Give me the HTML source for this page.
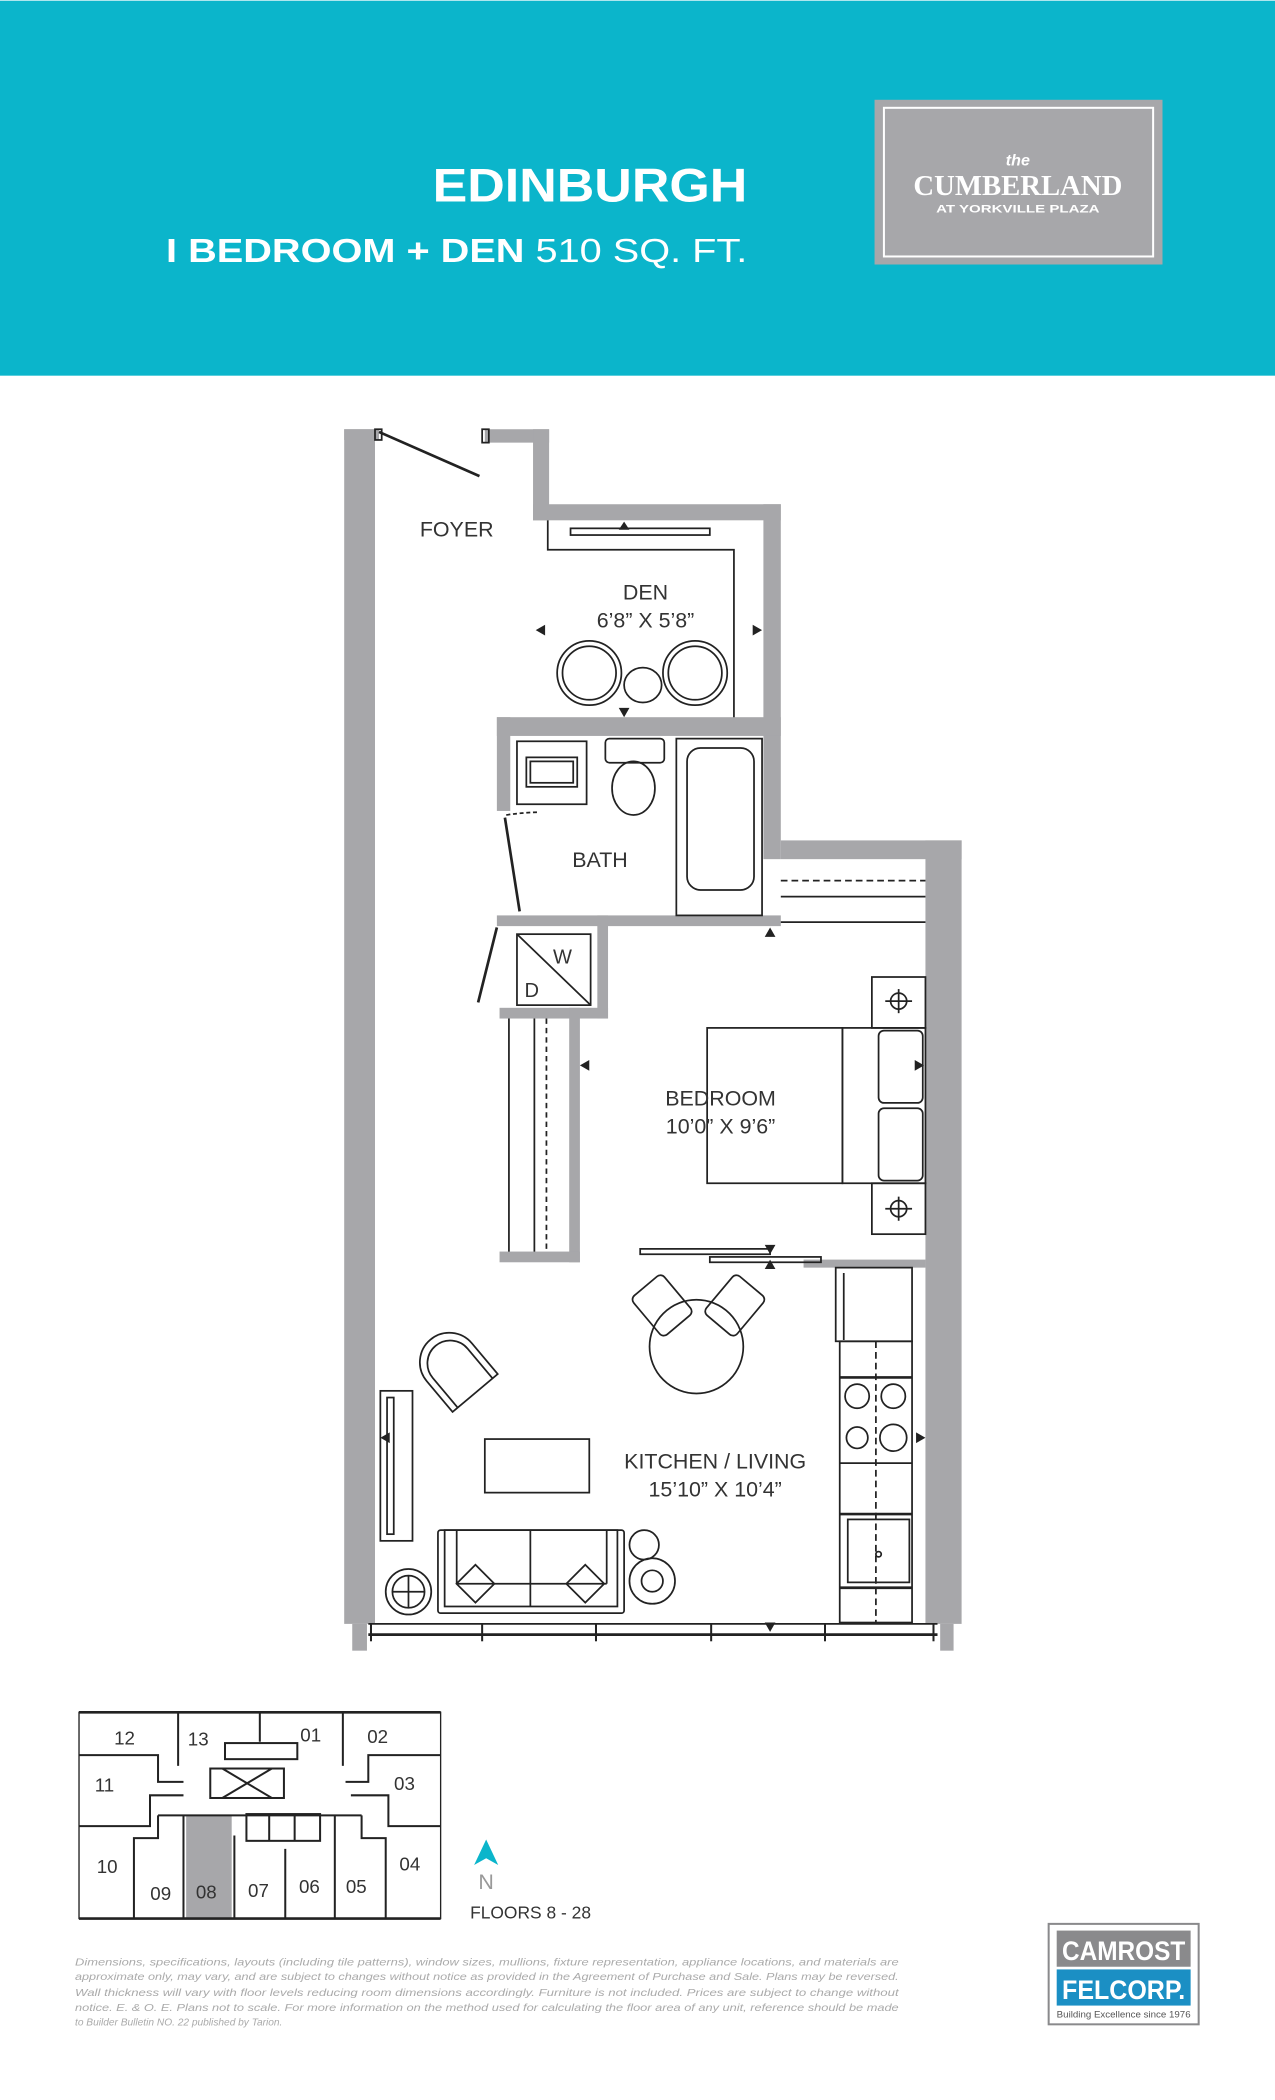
<!DOCTYPE html>
<html><head><meta charset="utf-8"><style>
html,body{margin:0;padding:0;background:#fff}
svg{display:block}
text{font-family:"Liberation Sans",sans-serif}
</style></head><body>
<svg width="1275" height="2100" viewBox="0 0 952 1567" xmlns="http://www.w3.org/2000/svg">
<rect x="0" y="0" width="952" height="280" fill="#0bb5cb"/>
<text x="558" y="150" text-anchor="end" font-size="35" font-weight="bold" fill="#fff" textLength="235" lengthAdjust="spacingAndGlyphs">EDINBURGH</text>
<text x="124" y="195" font-size="25" fill="#fff" textLength="434" lengthAdjust="spacingAndGlyphs"><tspan font-weight="bold">I BEDROOM + DEN</tspan> 510 SQ. FT.</text>
<rect x="653" y="74" width="215" height="123" fill="#a7a7aa"/>
<rect x="660" y="80" width="201" height="111" fill="none" stroke="#fff" stroke-width="1.5"/>
<text x="760" y="123" text-anchor="middle" font-family="Liberation Serif" font-style="italic" font-weight="bold" font-size="12" fill="#fff">the</text>
<text x="760" y="145" text-anchor="middle" font-family="Liberation Serif" font-weight="bold" font-size="21" fill="#fff" textLength="156" lengthAdjust="spacingAndGlyphs" style="font-family:'Liberation Serif',serif">CUMBERLAND</text>
<text x="760" y="158" text-anchor="middle" font-weight="bold" font-size="8" fill="#fff" textLength="122" lengthAdjust="spacingAndGlyphs">AT YORKVILLE PLAZA</text>

<g fill="#a7a7aa">
<rect x="257" y="320" width="23" height="892"/>
<rect x="257" y="320" width="26" height="8"/>
<rect x="362" y="320" width="48" height="10"/>
<rect x="398" y="320" width="12" height="68"/>
<rect x="398" y="376" width="185" height="12"/>
<rect x="570" y="376" width="13" height="265"/>
<rect x="583" y="627" width="135" height="14"/>
<rect x="691" y="627" width="27" height="585"/>
<rect x="371" y="535" width="212" height="14"/>
<rect x="371" y="535" width="10" height="70"/>
<rect x="371" y="683" width="212" height="8"/>
<rect x="446" y="683" width="8" height="77"/>
<rect x="373" y="752" width="81" height="8"/>
<rect x="425" y="752" width="8" height="190"/>
<rect x="373" y="934" width="60" height="8"/>
<rect x="600" y="940" width="91" height="6"/>
<rect x="263" y="1212" width="11" height="20"/>
<rect x="702" y="1212" width="10" height="20"/>
</g>
<g fill="none" stroke="#222" stroke-width="1.3">
<!-- entry door -->
<line x1="283" y1="322" x2="358" y2="355" stroke-width="2"/>
<rect x="280" y="320" width="5" height="8"/><rect x="360" y="320" width="5" height="10"/>
<!-- den counter -->
<polyline points="409,388 409,410 548,410 548,535"/>
<rect x="426" y="394" width="104" height="5"/>
<circle cx="440" cy="502" r="24"/><circle cx="440" cy="502" r="20"/>
<circle cx="519" cy="502" r="24"/><circle cx="519" cy="502" r="20"/>
<ellipse cx="480" cy="511" rx="14" ry="13"/>
<!-- bath -->
<rect x="386" y="553" width="52" height="47"/>
<rect x="393" y="565" width="38" height="22"/><rect x="396" y="568" width="32" height="16"/>
<rect x="452" y="551" width="44" height="18" rx="3"/>
<ellipse cx="473" cy="588" rx="16" ry="20"/>
<rect x="505" y="551" width="64" height="132"/>
<rect x="513" y="558" width="50" height="106" rx="10"/>
<line x1="377" y1="610" x2="388" y2="680" stroke-width="2"/>
<path d="M378,608 Q392,606 402,606" stroke-dasharray="3,2"/>
<!-- bedroom closet top -->
<line x1="583" y1="657" x2="691" y2="657" stroke-dasharray="5,3"/>
<line x1="583" y1="669" x2="691" y2="669"/>
<line x1="583" y1="688" x2="691" y2="688"/>
<!-- W/D -->
<rect x="386" y="697" width="55" height="53"/>
<line x1="386" y1="697" x2="441" y2="750"/>
<line x1="371" y1="692" x2="357" y2="748" stroke-width="2"/>
<!-- closet -->
<line x1="380" y1="760" x2="380" y2="934"/>
<line x1="399" y1="760" x2="399" y2="934"/>
<line x1="408" y1="760" x2="408" y2="934" stroke-dasharray="4,3"/>
<!-- bed -->
<rect x="528" y="767" width="101" height="116"/>
<rect x="629" y="767" width="62" height="116"/>
<rect x="656" y="769" width="33" height="54" rx="4"/>
<rect x="656" y="827" width="33" height="54" rx="4"/>
<rect x="651" y="729" width="40" height="38"/>
<rect x="651" y="883" width="40" height="38"/>
<circle cx="671" cy="747" r="6"/><line x1="661" y1="747" x2="681" y2="747"/><line x1="671" y1="738" x2="671" y2="756"/>
<circle cx="671" cy="902" r="6"/><line x1="661" y1="902" x2="681" y2="902"/><line x1="671" y1="893" x2="671" y2="911"/>
<!-- sliding doors -->
<rect x="478" y="932" width="97" height="4"/>
<rect x="530" y="938" width="83" height="4"/>
<!-- kitchen -->
<rect x="624" y="946" width="57" height="55"/>
<line x1="630" y1="950" x2="630" y2="1000"/>
<rect x="627" y="1001" width="54" height="210"/>
<line x1="654" y1="1001" x2="654" y2="1211" stroke-dasharray="5,3"/>
<line x1="627" y1="1028" x2="681" y2="1028" stroke-width="2"/>
<line x1="627" y1="1092" x2="681" y2="1092"/>
<line x1="627" y1="1130" x2="681" y2="1130" stroke-width="2"/>
<line x1="627" y1="1185" x2="681" y2="1185" stroke-width="2"/>
<circle cx="640" cy="1042" r="9"/><circle cx="667" cy="1042" r="9"/>
<circle cx="640" cy="1073" r="8"/><circle cx="667" cy="1073" r="10"/>
<rect x="633" y="1134" width="46" height="47"/><circle cx="656" cy="1160" r="2"/>
<!-- dining -->
<circle cx="520" cy="1005" r="35"/>
<g transform="rotate(-40 495 975)"><rect x="480" y="955" width="30" height="38" rx="4"/></g>
<g transform="rotate(40 548 975)"><rect x="533" y="955" width="30" height="38" rx="4"/></g>
<!-- armchair -->
<g transform="rotate(-40 340 1022)"><path d="M318,1045 L318,1015 A22,22 0 0 1 362,1015 L362,1045 Z"/><path d="M323,1045 L323,1016 A17,17 0 0 1 357,1016 L357,1045"/></g>
<!-- tv -->
<rect x="284" y="1038" width="24" height="112"/><rect x="289" y="1043" width="5" height="102"/>
<!-- coffee table -->
<rect x="362" y="1074" width="78" height="40"/>
<!-- sofa -->
<rect x="327" y="1142" width="139" height="62" rx="2"/>
<rect x="332" y="1142" width="129" height="57"/>
<line x1="396" y1="1142" x2="396" y2="1199"/>
<line x1="341" y1="1142" x2="341" y2="1182"/><line x1="453" y1="1142" x2="453" y2="1182"/>
<line x1="341" y1="1182" x2="453" y2="1182"/>
<g transform="rotate(45 355 1182)"><rect x="345" y="1172" width="20" height="20"/></g>
<g transform="rotate(45 437 1182)"><rect x="427" y="1172" width="20" height="20"/></g>
<!-- side tables -->
<circle cx="305" cy="1188" r="17"/><circle cx="305" cy="1188" r="12"/><line x1="293" y1="1188" x2="317" y2="1188"/><line x1="305" y1="1176" x2="305" y2="1200"/>
<circle cx="481" cy="1153" r="11"/>
<circle cx="487" cy="1180" r="17"/><circle cx="487" cy="1180" r="8"/>
<!-- window -->
<line x1="275" y1="1212" x2="700" y2="1212"/>
<line x1="275" y1="1220" x2="700" y2="1220" stroke-width="2"/>
<g stroke-width="1.5"><line x1="360" y1="1212" x2="360" y2="1225"/><line x1="445" y1="1212" x2="445" y2="1225"/><line x1="531" y1="1212" x2="531" y2="1225"/><line x1="616" y1="1212" x2="616" y2="1225"/><line x1="277" y1="1212" x2="277" y2="1225"/><line x1="697" y1="1212" x2="697" y2="1225"/></g>
</g>
<g fill="#222">
<polygon points="400,470 407,466 407,474"/>
<polygon points="569,470 562,466 562,474"/>
<polygon points="466,535 462,528 470,528"/>
<polygon points="466,389 462,395 470,395"/>
<polygon points="575,692 571,699 579,699"/>
<polygon points="433,795 440,791 440,799"/>
<polygon points="690,795 683,791 683,799"/>
<polygon points="575,936 571,929 579,929"/>
<polygon points="575,940 571,947 579,947"/>
<polygon points="284,1073 291,1069 291,1077"/>
<polygon points="691,1073 684,1069 684,1077"/>
<polygon points="575,1218 571,1211 579,1211"/>
</g>
<g font-size="16" fill="#333" text-anchor="middle">
<text x="341" y="400">FOYER</text>
<text x="482" y="447">DEN</text>
<text x="482" y="468">6’8” X 5’8”</text>
<text x="448" y="647">BATH</text>
<text x="420" y="719" font-size="15">W</text>
<text x="397" y="744" font-size="15">D</text>
<text x="538" y="825">BEDROOM</text>
<text x="538" y="846">10’0” X 9’6”</text>
<text x="534" y="1096">KITCHEN / LIVING</text>
<text x="534" y="1117">15’10” X 10’4”</text>
</g>

<!-- key plan -->
<g fill="none" stroke="#222" stroke-width="1.5">
<rect x="139" y="1355" width="34" height="77" fill="#a7a7aa" stroke="none"/>
<rect x="59" y="1278" width="270" height="154" stroke-width="1"/>
<line x1="59" y1="1278" x2="329" y2="1278" stroke-width="2"/>
<line x1="59" y1="1432" x2="329" y2="1432" stroke-width="2"/>
<polyline points="59,1310 118,1310 118,1330 137,1330"/>
<line x1="133" y1="1278" x2="133" y2="1318"/>
<line x1="194" y1="1278" x2="194" y2="1300"/>
<line x1="256" y1="1278" x2="256" y2="1318"/>
<polyline points="329,1310 275,1310 275,1330 258,1330"/>
<polyline points="59,1363 112,1363 112,1340 137,1340"/>
<polyline points="329,1363 290,1363 290,1340 262,1340"/>
<polyline points="100,1432 100,1372 118,1372 118,1355"/>
<polyline points="288,1432 288,1372 270,1372 270,1355"/>
<line x1="137" y1="1355" x2="137" y2="1432"/>
<line x1="175" y1="1370" x2="175" y2="1432"/>
<line x1="213" y1="1380" x2="213" y2="1432"/>
<line x1="250" y1="1355" x2="250" y2="1432"/>
<rect x="168" y="1301" width="54" height="12"/>
<rect x="157" y="1320" width="55" height="22"/>
<line x1="166" y1="1320" x2="203" y2="1342"/><line x1="203" y1="1320" x2="166" y2="1342"/>
<rect x="184" y="1354" width="55" height="20"/>
<line x1="201" y1="1354" x2="201" y2="1374"/><line x1="220" y1="1354" x2="220" y2="1374"/>
<line x1="118" y1="1355" x2="270" y2="1355"/>
</g>
<g font-size="14" fill="#333" text-anchor="middle">
<text x="93" y="1302">12</text><text x="148" y="1303">13</text><text x="232" y="1300">01</text><text x="282" y="1301">02</text>
<text x="78" y="1337">11</text><text x="302" y="1336">03</text>
<text x="80" y="1398">10</text><text x="306" y="1396">04</text>
<text x="120" y="1418">09</text><text x="154" y="1417">08</text><text x="193" y="1416">07</text><text x="231" y="1413">06</text><text x="266" y="1413">05</text>
</g>
<polygon points="363,1373 354,1392 363,1387 372,1392" fill="#0bb5cb"/>
<text x="363" y="1410" text-anchor="middle" font-size="16" fill="#999">N</text>
<text x="351" y="1432" font-size="13" fill="#333">FLOORS 8 - 28</text>

<g font-family="Liberation Serif" font-style="italic" font-size="7.6" fill="#aaa" style="font-family:'Liberation Serif',serif">
<text x="56" y="1467" textLength="615" lengthAdjust="spacingAndGlyphs">Dimensions, specifications, layouts (including tile patterns), window sizes, mullions, fixture representation, appliance locations, and materials are</text>
<text x="56" y="1478" textLength="615" lengthAdjust="spacingAndGlyphs">approximate only, may vary, and are subject to changes without notice as provided in the Agreement of Purchase and Sale. Plans may be reversed.</text>
<text x="56" y="1490" textLength="615" lengthAdjust="spacingAndGlyphs">Wall thickness will vary with floor levels reducing room dimensions accordingly. Furniture is not included.  Prices are subject to change without</text>
<text x="56" y="1501" textLength="615" lengthAdjust="spacingAndGlyphs">notice. E. &amp; O. E. Plans not to scale.  For more information on the method used for calculating the floor area of any unit, reference should be made</text>
<text x="56" y="1512">to Builder Bulletin NO. 22 published by Tarion.</text>
</g>

<rect x="783" y="1436" width="112" height="75" fill="#fff" stroke="#8a8a8c" stroke-width="1.5"/>
<rect x="789" y="1441" width="100" height="27" fill="#8a8a8c"/>
<rect x="789" y="1470" width="100" height="27" fill="#1b8fc4"/>
<text x="839" y="1463" text-anchor="middle" font-weight="bold" font-size="20" fill="#fff" textLength="92" lengthAdjust="spacingAndGlyphs">CAMROST</text>
<text x="839" y="1492" text-anchor="middle" font-weight="bold" font-size="20" fill="#fff" textLength="92" lengthAdjust="spacingAndGlyphs">FELCORP.</text>
<text x="839" y="1506" text-anchor="middle" font-size="7" fill="#555" textLength="100" lengthAdjust="spacingAndGlyphs">Building Excellence since 1976</text>
</svg>
</body></html>
